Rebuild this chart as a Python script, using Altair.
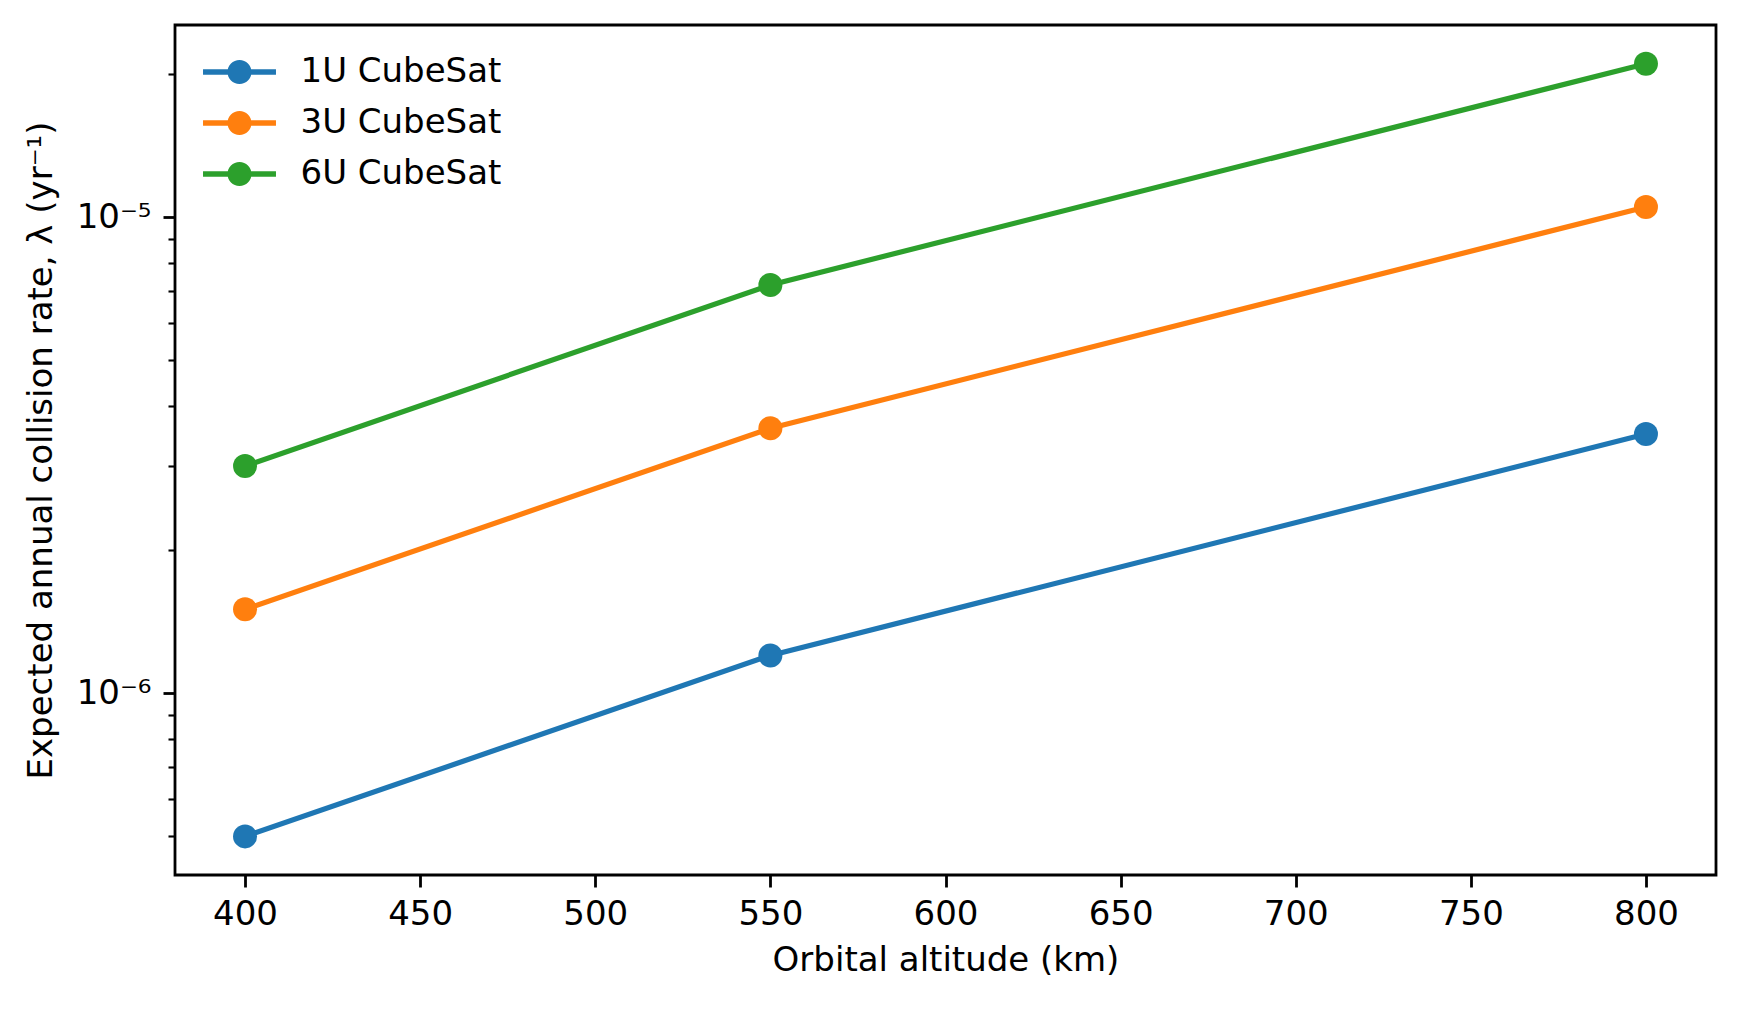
import altair as alt
import pandas as pd

# ---- data ----
altitudes = [400, 550, 800]
series_names = ["1U CubeSat", "3U CubeSat", "6U CubeSat"]
rate_1u = [5.0e-7, 1.2e-6, 3.5e-6]
rate_3u = [1.5e-6, 3.6e-6, 1.05e-5]
rate_6u = [3.0e-6, 7.2e-6, 2.1e-5]
series_colors = ["#1f77b4", "#ff7f0e", "#2ca02c"]

x_ticks = [400, 450, 500, 550, 600, 650, 700, 750, 800]
y_ticks = [5e-7, 6e-7, 7e-7, 8e-7, 9e-7,
           1e-6, 2e-6, 3e-6, 4e-6, 5e-6, 6e-6, 7e-6, 8e-6, 9e-6,
           1e-5, 2e-5]
x_domain = [380, 820]
y_domain = [4.148e-7, 2.532e-5]

rows = []
for name, vals in zip(series_names, [rate_1u, rate_3u, rate_6u]):
    for a, v in zip(altitudes, vals):
        rows.append({"series": name, "alt": a, "rate": v})
df = pd.DataFrame(rows)

FONT = "DejaVu Sans"
FS = 34
W, H = 1541, 850
MARKER = 576

major_test = "datum.value == 1e-5 || datum.value == 1e-6"

x_enc = alt.X(
    "alt:Q",
    scale=alt.Scale(domain=x_domain, nice=False, zero=False),
    axis=alt.Axis(
        values=x_ticks, grid=False, domain=False,
        tickSize=12, tickWidth=2.8, tickColor="black",
        labelFont=FONT, labelFontSize=FS, labelColor="black",
        labelPadding=10, labelFlush=False, labelOverlap=False,
        title="Orbital altitude (km)", titleFont=FONT, titleFontSize=FS,
        titleFontWeight="normal", titleColor="black",
        titleX=W / 2, titleY=95, titleAlign="center", titleBaseline="alphabetic",
    ),
)
y_enc = alt.Y(
    "rate:Q",
    scale=alt.Scale(type="log", domain=y_domain, nice=False),
    axis=alt.Axis(
        values=y_ticks, grid=False, domain=False,
        tickSize={"condition": {"test": major_test, "value": 12}, "value": 7},
        tickWidth={"condition": {"test": major_test, "value": 2.8}, "value": 2.1},
        tickColor="black",
        labelExpr="datum.value == 1e-5 ? '10⁻⁵' : (datum.value == 1e-6 ? '10⁻⁶' : '')",
        labelFont=FONT, labelFontSize=FS, labelColor="black",
        labelPadding=12, labelOverlap=False, labelBound=False,
        title="Expected annual collision rate, λ (yr⁻¹)",
        titleFont=FONT, titleFontSize=FS, titleFontWeight="normal", titleColor="black",
        titleAngle=270, titleX=-124, titleY=H / 2, titleAlign="center",
        titleBaseline="alphabetic",
    ),
)

color_scale = alt.Scale(domain=series_names, range=series_colors)

# legend glyph: line segment with a filled circle in the middle (unit = marker radius)
LEGEND_PATH = ("M-3.04,-0.22 L-0.9,-0.22 L-0.9,0.22 L-3.04,0.22 Z "
               "M0.9,-0.22 L3.04,-0.22 L3.04,0.22 L0.9,0.22 Z "
               "M1,0 A1,1 0 1,1 -1,0 A1,1 0 1,1 1,0 Z")

lines = alt.Chart(df).mark_line(strokeWidth=5.2).encode(
    x=x_enc, y=y_enc,
    color=alt.Color("series:N", scale=color_scale, legend=None),
    detail="series:N",
)
points = alt.Chart(df).mark_circle(size=MARKER, opacity=1).encode(
    x=x_enc, y=y_enc,
    color=alt.Color(
        "series:N", scale=color_scale,
        legend=alt.Legend(
            title=None, orient="none", legendX=47.5, legendY=30,
            symbolType=LEGEND_PATH, symbolSize=MARKER, symbolStrokeWidth=0,
            symbolOpacity=1, labelFont=FONT, labelFontSize=FS, labelColor="black",
            labelOffset=44, rowPadding=17, padding=0, labelLimit=0,
        ),
    ),
)

chart = alt.layer(lines, points).resolve_legend(color="independent").properties(
    width=W, height=H,
    autosize=alt.AutoSizeParams(type="none"),
    padding={"left": 167, "top": 17, "right": 21, "bottom": 129},
    background="white",
).configure_view(stroke="black", strokeWidth=2.8)

chart.save("out.html", embed_options={"renderer": "svg", "actions": False})
